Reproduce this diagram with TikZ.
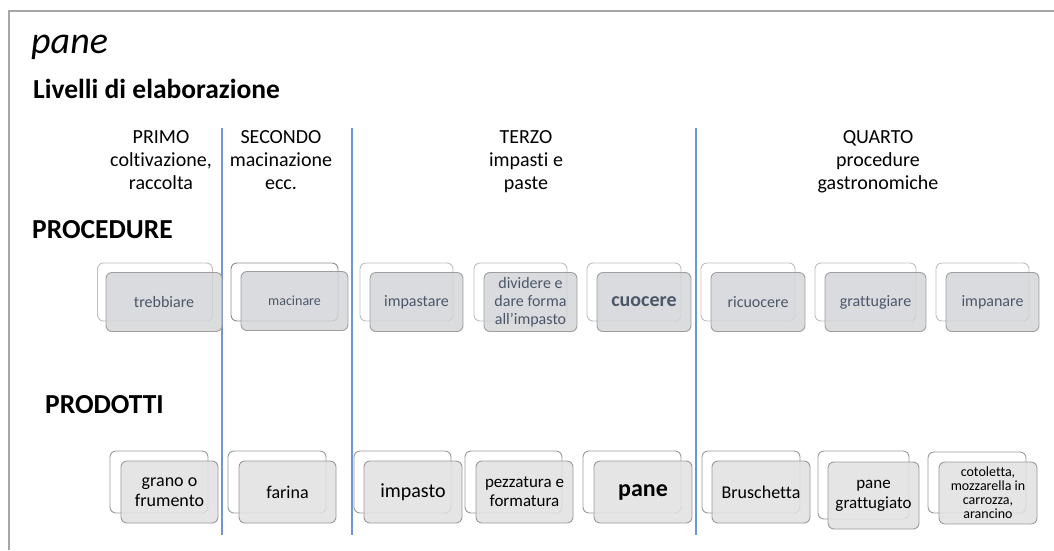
\documentclass[tikz,border=0pt]{standalone}
\usepackage{fontspec}
\setmainfont{Carlito}[Ligatures={NoCommon,NoContextual},Contextuals=NoAlternate]
\usepackage{tikz}

\definecolor{lineablu}{HTML}{6F95D9}
\definecolor{cornice}{HTML}{A6A6A6}
\definecolor{grigioproc}{HTML}{D3D4D7}
\definecolor{grigioprod}{HTML}{E1E1E1}
\definecolor{testoproc}{HTML}{4B5769}

\tikzset{
  retro/.style={draw=#1, fill=white, rounded corners=6pt, line width=0.9pt, inner sep=0pt},
  procbox/.style={draw=black!38, fill=grigioproc, fill opacity=0.82, text opacity=1,
    rounded corners=6pt, line width=0.9pt, inner sep=0pt, align=center, text=testoproc,
    minimum height=59pt, font=\fontsize{16}{18}\selectfont},
  prodbox/.style={draw=black!40, fill=grigioprod, fill opacity=0.85, text opacity=1,
    rounded corners=6pt, line width=0.9pt, inner sep=0pt, align=center, text=black,
    minimum height=62pt, font=\fontsize{18}{20}\selectfont},
  livello/.style={anchor=north, inner sep=0pt, align=center, font=\fontsize{20}{23}\selectfont},
  divisore/.style={draw=lineablu, line width=1.8pt}
}

\begin{document}
\begin{tikzpicture}[x=1pt,y=-1pt]
  \useasboundingbox (0,0) rectangle (1054,550);
  % cornice
  \draw[cornice, line width=1.5pt] (9,550) -- (9,11) -- (1054,11);

  \node[anchor=base west, inner sep=0pt, font=\fontsize{38}{42}\selectfont\itshape] (titolo) at (31,53) {pane};
  \node[anchor=base west, inner sep=0pt, font=\fontsize{27.5}{30}\selectfont\bfseries] (livelli) at (33,98) {Livelli di elaborazione};
  \node[anchor=base west, inner sep=0pt, font=\fontsize{27.5}{30}\selectfont\bfseries] (procedure) at (32,238) {PROCEDURE};
  \node[anchor=base west, inner sep=0pt, font=\fontsize{27.5}{30}\selectfont\bfseries] (prodotti) at (45,413) {PRODOTTI};

  % livelli
  \node[livello] (primo) at (161,130) {PRIMO\\coltivazione,\\raccolta};
  \node[livello] (secondo) at (281,130) {SECONDO\\macinazione\\ecc.};
  \node[livello] (terzo) at (526,130) {TERZO\\impasti e\\paste};
  \node[livello] (quarto) at (878,130) {QUARTO\\procedure\\gastronomiche};

  \draw[divisore] (222,128) -- (222,535);
  \draw[divisore] (352,128) -- (352,535);
  \draw[divisore] (696,128) -- (696,535);

  % procedure
  \node[retro=black!25, minimum width=115pt, minimum height=58pt] (trebbiareR) at (155,292) {};
  \node[procbox, minimum width=116pt] (trebbiare) at (164,302) {trebbiare};
  \node[retro=black!45, minimum width=107pt, minimum height=58pt] (macinareR) at (284.5,292) {};
  \node[procbox, minimum width=107pt, font=\fontsize{14}{16}\selectfont] (macinare) at (294.5,301) {macinare};
  \node[retro=black!25, minimum width=93pt, minimum height=58pt] (impastareR) at (406.5,292) {};
  \node[procbox, minimum width=93pt] (impastare) at (416.5,302) {impastare};
  \node[retro=black!25, minimum width=93pt, minimum height=58pt] (dividereR) at (520.5,292) {};
  \node[procbox, minimum width=93pt] (dividere) at (530.5,302) {dividere e\\dare forma\\all’impasto};
  \node[retro=black!25, minimum width=94pt, minimum height=58pt] (cuocereR) at (634,292) {};
  \node[procbox, minimum width=94pt, font=\fontsize{20}{22}\selectfont\bfseries] (cuocere) at (644,302) {cuocere};
  \node[retro=black!25, minimum width=94pt, minimum height=58pt] (ricuocereR) at (748,292) {};
  \node[procbox, minimum width=94pt] (ricuocere) at (758,302) {ricuocere};
  \node[retro=black!25, minimum width=101pt, minimum height=58pt] (grattugiareR) at (865.5,292) {};
  \node[procbox, minimum width=101pt] (grattugiare) at (875.5,302) {grattugiare};
  \node[retro=black!25, minimum width=93pt, minimum height=58pt] (impanareR) at (982.5,292) {};
  \node[procbox, minimum width=93pt] (impanare) at (992.5,302) {impanare};

  % prodotti
  \node[retro=black!40, minimum width=98pt, minimum height=62pt] (granoR) at (159,482) {};
  \node[prodbox, minimum width=97pt] (grano) at (169.5,492) {grano o\\frumento};
  \node[retro=black!40, minimum width=98pt, minimum height=62pt] (farinaR) at (277,482) {};
  \node[prodbox, minimum width=97pt] (farina) at (287.5,492) {farina};
  \node[retro=black!40, minimum width=97pt, minimum height=62pt] (impastoR) at (402.5,482) {};
  \node[prodbox, minimum width=98pt, font=\fontsize{20}{22}\selectfont] (impasto) at (413,492) {impasto};
  \node[retro=black!40, minimum width=97pt, minimum height=62pt] (pezzaturaR) at (513.5,482) {};
  \node[prodbox, minimum width=97pt, font=\fontsize{17}{19}\selectfont] (pezzatura) at (524.5,492) {pezzatura e\\formatura};
  \node[retro=black!40, minimum width=98pt, minimum height=62pt] (paneR) at (632,482) {};
  \node[prodbox, minimum width=98pt, font=\fontsize{24}{26}\selectfont\bfseries] (pane) at (643,492) {pane};
  \node[retro=black!40, minimum width=98pt, minimum height=62pt] (bruschettaR) at (751,482) {};
  \node[prodbox, minimum width=98pt] (bruschetta) at (761,492) {Bruschetta};
  \node[retro=black!40, minimum width=91pt, minimum height=68pt] (grattugiatoR) at (863.5,485) {};
  \node[prodbox, minimum width=91pt, minimum height=67pt, font=\fontsize{17}{20}\selectfont] (grattugiato) at (873.5,495.5) {pane\\grattugiato};
  \node[retro=black!40, minimum width=98pt, minimum height=61pt] (cotolettaR) at (977,482.5) {};
  \node[prodbox, minimum width=98pt, font=\fontsize{14}{14}\selectfont] (cotoletta) at (988,493) {cotoletta,\\mozzarella in\\carrozza,\\arancino};
\end{tikzpicture}
\end{document}
